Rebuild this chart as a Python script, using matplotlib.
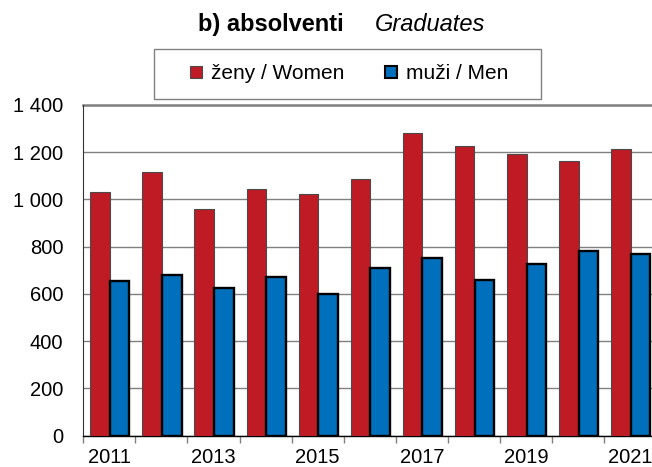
import matplotlib
matplotlib.use("Agg")
import matplotlib.pyplot as plt
from matplotlib.lines import Line2D
from matplotlib.patches import Rectangle
import numpy as np

plt.rcParams['font.family'] = ['Liberation Sans', 'DejaVu Sans']

years = [2011, 2012, 2013, 2014, 2015, 2016, 2017, 2018, 2019, 2020, 2021]
women = [1033, 1116, 958, 1043, 1025, 1085, 1280, 1228, 1193, 1164, 1212]
men = [654, 682, 625, 672, 600, 709, 751, 660, 728, 781, 771]
yticks = [0, 200, 400, 600, 800, 1000, 1200, 1400]
red = '#BE1B24'
blue = '#0070BC'

W, H = 652, 467
fig = plt.figure(figsize=(W / 100, H / 100), dpi=100)
ax = fig.add_axes([83.3 / W, (H - 435.7) / H, 573 / W, 330.7 / H])

x = np.arange(len(years))
w = 0.375
ax.bar(x + 0.322, women, width=w, color=red, edgecolor='#4a4a4a', linewidth=0.8, zorder=3)
ax.bar(x + 0.698, men, width=w, color=blue, edgecolor='black', linewidth=1.7, zorder=3)

ax.set_xlim(0, len(years))
ax.set_ylim(0, 1400)
ax.set_yticks(yticks)
ax.set_yticklabels([f"{v:,}".replace(',', ' ') for v in yticks], fontsize=14.5)
ax.tick_params(axis='y', length=0, pad=14.5)
ax.yaxis.grid(True, color='#808080', linewidth=1.0, zorder=0)
ax.set_axisbelow(True)

ax.set_xticks(x + 0.5)
ax.set_xticklabels([str(y) if i % 2 == 0 else '' for i, y in enumerate(years)], fontsize=14.5)
ax.tick_params(axis='x', length=0, pad=8.5)
ax.set_xticks(np.arange(len(years) + 1), minor=True)
ax.tick_params(axis='x', which='minor', length=5, color='#808080', width=1)

for s in ['top', 'right']:
    ax.spines[s].set_visible(False)
ax.spines['left'].set_color('#333333')
ax.spines['bottom'].set_color('black')
ax.spines['bottom'].set_linewidth(1.0)
ax.axhline(1400, color='#808080', linewidth=1.8, zorder=1, clip_on=False)

fig.text(198 / W, 1 - 31 / H, 'b) absolventi', fontsize=17, fontweight='bold', ha='left', va='baseline')
fig.text(375 / W, 1 - 31 / H, 'Graduates', fontsize=17, style='italic', ha='left', va='baseline')

# legend frame
fig.patches.append(Rectangle((154 / W, 1 - 98.5 / H), (541 - 154) / W, 49.5 / H,
                             transform=fig.transFigure, facecolor='white',
                             edgecolor='#808080', linewidth=1.0, zorder=1))

handles = [
    Line2D([], [], marker='s', linestyle='none', markersize=8, markerfacecolor=red, markeredgecolor='#4a4a4a', markeredgewidth=0.8),
    Line2D([], [], marker='s', linestyle='none', markersize=8, markerfacecolor=blue, markeredgecolor='black', markeredgewidth=1.5),
]
leg = fig.legend(handles, ['ženy / Women', 'muži / Men'], loc='center left',
                 bbox_to_anchor=(190 / W, 1 - 73.5 / H),
                 ncol=2, fontsize=15, frameon=False,
                 handlelength=0.55, handletextpad=0.45, columnspacing=1.95,
                 borderpad=0, borderaxespad=0)
leg.set_zorder(2)

fig.savefig('out.png', dpi=100)
